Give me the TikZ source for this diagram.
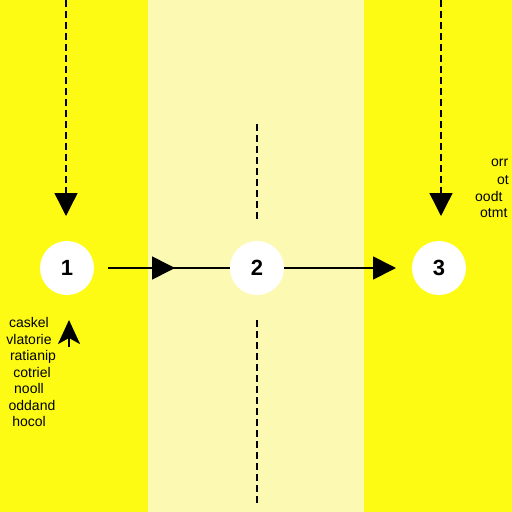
\documentclass[tikz,border=0pt]{standalone}
\usepackage{fontspec}
\setmainfont{Liberation Sans}
\usetikzlibrary{arrows.meta}
\definecolor{bright}{HTML}{FDFB14}
\definecolor{pale}{HTML}{FBF9B2}
\tikzset{
  num/.style={circle,fill=white,minimum size=54pt,inner sep=0pt,font=\fontsize{22}{22}\selectfont\bfseries},
  conn/.style={line width=1.7pt},
  tip/.style={-{Triangle[length=23pt,width=23pt]}},
  dline/.style={line width=1.4pt,dash pattern=on 7pt off 4pt},
  small/.style={font=\fontsize{14}{16.5}\selectfont,inner sep=0pt}
}
\begin{document}
\begin{tikzpicture}[x=1pt,y=-1pt]
\clip (0,0) rectangle (512,512);
\useasboundingbox (0,0) rectangle (512,512);
\fill[bright] (0,0) rectangle (512,512);
\fill[pale] (148,0) rectangle (364,512);
% nodes
\node[num] (n1) at (67,268) {1};
\node[num] (n2) at (257,268) {2};
\node[num] (n3) at (439,268) {3};
% horizontal connectors
\coordinate (a1) at (108,268);
\coordinate (t1) at (175,268);
\coordinate (a2) at (284,268);
\coordinate (t2) at (396,268);
\draw[conn] (a1) -- (n2.west);
\draw[conn,tip] (a1) -- (t1);
\draw[conn,tip] (a2) -- (t2);
% dashed vertical arrows
\coordinate (d1s) at (66,0);
\coordinate (d1e) at (66,216);
\coordinate (d3s) at (441,0);
\coordinate (d3e) at (441,216);
\draw[dline,-{Triangle[length=23pt,width=23pt]}] (d1s) -- (d1e);
\draw[dline,-{Triangle[length=23pt,width=23pt]}] (d3s) -- (d3e);
% dashed middle line
\coordinate (m1) at (257,124);
\coordinate (m2) at (257,220);
\coordinate (m3) at (257,320);
\coordinate (m4) at (257,506);
\draw[dline] (m1) -- (m2);
\draw[dline] (m3) -- (m4);
% small up arrow
\coordinate (u1) at (69,347);
\coordinate (u2) at (69,320);
\draw[line width=2.5pt,-{Stealth[length=24pt,width=22pt,inset=6pt]}] (u1) -- (u2);
% left text
\node[small,align=center] (lt) at (29,372) {caskel\\vlatorie\\\hspace*{8pt}ratianip\\\hspace*{6pt}cotriel\\nooll\\\hspace*{6pt}oddand\\hocol};
% right text
\node[small,anchor=west] (r1) at (491,163) {orr};
\node[small,anchor=west] (r2) at (497,180) {ot};
\node[small,anchor=west] (r3) at (475,196) {oodt};
\node[small,anchor=west] (r4) at (480,213) {otmt};
\end{tikzpicture}
\end{document}
